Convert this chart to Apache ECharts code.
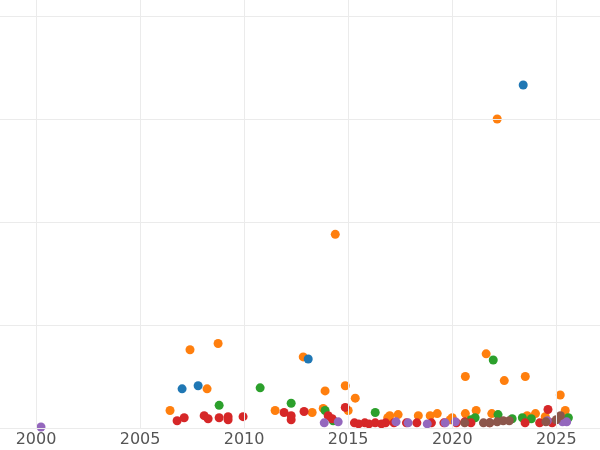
<!DOCTYPE html><html><head><meta charset="utf-8"><script src="https://cdn.jsdelivr.net/npm/echarts@6/dist/echarts.min.js"></script></head><body style="margin:0"><div id="c" style="width:600px;height:450px"></div><script>
const xTicks=[2000,2005,2010,2015,2020,2025];
const blue=[[2023.41,3.33],[2007.02,0.38],[2007.79,0.41],[2013.08,0.67]];
const orange=[[2022.16,3.0],[2014.38,1.88],[2007.4,0.76],[2008.75,0.82],[2012.84,0.69],[2021.63,0.72],[2020.63,0.5],[2023.51,0.5],[2022.5,0.46],[2025.19,0.32],[2008.22,0.38],[2006.44,0.17],[2013.89,0.36],[2014.86,0.41],[2015.34,0.29],[2011.49,0.17],[2013.27,0.15],[2013.8,0.19],[2015,0.17],[2017.0,0.12],[2017.4,0.13],[2018.37,0.12],[2018.94,0.12],[2019.28,0.14],[2020,0.1],[2020.63,0.14],[2021.15,0.17],[2021.9,0.14],[2023.6,0.12],[2024,0.14],[2024.47,0.11],[2025.43,0.17],[2016.9,0.1],[2019.9,0.08]];
const green=[[2021.97,0.66],[2010.77,0.39],[2008.8,0.22],[2012.26,0.24],[2013.89,0.17],[2016.3,0.15],[2022.2,0.13],[2022.88,0.09],[2021.1,0.1],[2023.37,0.1],[2025.2,0.1],[2014.28,0.07],[2025.58,0.1],[2020.9,0.08],[2023.8,0.09]];
const red=[[2006.78,0.07],[2007.12,0.1],[2008.08,0.12],[2008.27,0.09],[2008.8,0.1],[2009.23,0.11],[2009.23,0.08],[2009.95,0.11],[2011.92,0.15],[2012.26,0.08],[2012.26,0.12],[2012.88,0.16],[2014.86,0.2],[2014.04,0.12],[2014.23,0.09],[2024.6,0.18],[2015.3,0.05],[2015.8,0.05],[2016.3,0.05],[2016.8,0.05],[2017.2,0.05],[2017.8,0.05],[2018.3,0.05],[2019.0,0.05],[2019.6,0.05],[2020.2,0.05],[2020.6,0.06],[2020.9,0.05],[2021.8,0.05],[2023.5,0.05],[2024.2,0.05],[2024.8,0.05],[2015.5,0.04],[2016.0,0.04],[2016.6,0.04]];
const purple=[[2000.24,0.01],[2013.85,0.05],[2014.52,0.06],[2017.3,0.06],[2017.88,0.05],[2018.8,0.04],[2019.66,0.05],[2020.15,0.06],[2024.57,0.07],[2025.5,0.06],[2025.3,0.06]];
const brown=[[2021.5,0.05],[2021.8,0.05],[2022.16,0.06],[2022.45,0.07],[2022.74,0.07],[2024.5,0.06],[2025.2,0.12],[2020.6,0.05],[2025.0,0.08]];
const yTicks=[0,1,2,3,4];
const mk=(d,c)=>({type:'scatter',data:d,symbolSize:9,itemStyle:{color:c,opacity:1},silent:true});
const ch=echarts.init(document.getElementById('c'));
const grid=[...xTicks.map(v=>({xAxis:v})),...yTicks.map(v=>({yAxis:v}))];
ch.setOption({animation:false,grid:{left:0,right:0,top:0,bottom:22},
xAxis:{type:'value',min:1998.27,max:2027.1,axisLine:{show:false},axisTick:{show:false},splitLine:{show:false},
 axisLabel:{customValues:xTicks,color:'#555',fontSize:16,fontFamily:'DejaVu Sans',margin:4,formatter:v=>String(v)}},
yAxis:{type:'value',min:0,max:4.155,axisLabel:{show:false},axisLine:{show:false},axisTick:{show:false},splitLine:{show:false}},
series:[{type:'line',data:[],markLine:{silent:true,symbol:'none',label:{show:false},lineStyle:{color:'#ebebeb',type:'solid',width:1},data:grid}},
mk(orange,'#ff7f0e'),mk(blue,'#1f77b4'),mk(green,'#2ca02c'),mk(red,'#d62728'),mk(purple,'#9467bd'),mk(brown,'#8c564b')]});
</script></body></html>
